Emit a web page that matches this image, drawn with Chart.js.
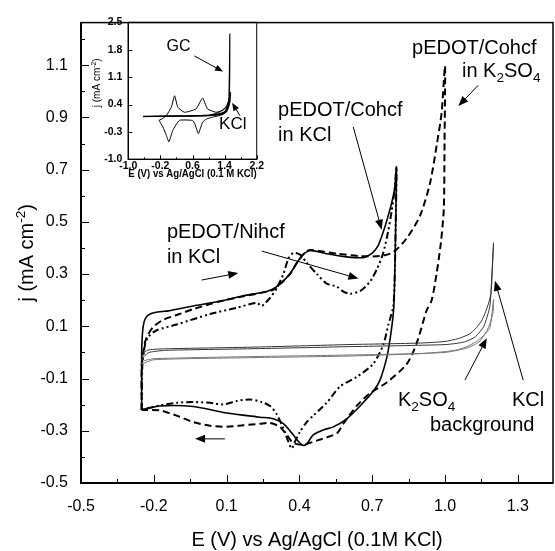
<!DOCTYPE html>
<html>
<head>
<meta charset="utf-8">
<script src="https://cdn.jsdelivr.net/npm/chart.js@4.4.1/dist/chart.umd.min.js"></script>
<style>
  html, body { margin: 0; padding: 0; background: #fff; }
  #wrap { position: relative; width: 555px; height: 551px; }
  #main { position: absolute; left: 0; top: 0; }
  #inset { position: absolute; left: 85px; top: 10px; }
</style>
</head>
<body>
<div id="wrap">
  <canvas id="main" width="555" height="551"></canvas>
  <canvas id="inset" width="180" height="175"></canvas>
</div>
<script>
const FAMILY = "'Liberation Sans', Arial, Helvetica, sans-serif";

// main panel: E (V vs Ag/AgCl) and j (mA cm-2), anodic sweep then cathodic sweep
const cohcfKclE = [-0.25, -0.25, -0.247, -0.243, -0.236, -0.223, -0.195, -0.14, -0.037, 0.073,
  0.169, 0.265, 0.30, 0.33, 0.361, 0.395, 0.423, 0.451, 0.512, 0.595,
  0.663, 0.70, 0.725, 0.745, 0.765, 0.782, 0.793, 0.8,
  0.797, 0.793, 0.788, 0.775, 0.76, 0.732, 0.704, 0.65, 0.595, 0.54,
  0.498, 0.457, 0.43, 0.416, 0.402, 0.375, 0.334, 0.292, 0.238, 0.1,
  -0.037, -0.175, -0.25];
const cohcfKclJ = [-0.22, 0.0, 0.07, 0.104, 0.128, 0.143, 0.153, 0.159, 0.178, 0.196,
  0.217, 0.233, 0.248, 0.27, 0.301, 0.351, 0.381, 0.39, 0.378, 0.366,
  0.363, 0.38, 0.41, 0.46, 0.52, 0.58, 0.63, 0.71,
  0.5, 0.3, 0.16, 0.06, -0.02, -0.106, -0.149, -0.205, -0.254, -0.285,
  -0.297, -0.316, -0.351, -0.356, -0.347, -0.316, -0.273, -0.254, -0.248, -0.232,
  -0.207, -0.205, -0.22];

const cohcfK2so4E = [-0.25, -0.25, -0.243, -0.236, -0.223, -0.202, -0.161, -0.1, -0.037, 0.073,
  0.169, 0.292, 0.33, 0.361, 0.395, 0.425, 0.445, 0.5, 0.554, 0.65,
  0.732, 0.787, 0.842, 0.897, 0.938, 0.966, 0.986, 1.0,
  0.998, 0.995, 0.983, 0.965, 0.945, 0.924, 0.883, 0.842, 0.76, 0.691,
  0.636, 0.581, 0.554, 0.48, 0.416, 0.375, 0.348, 0.32, 0.279, 0.238,
  0.169, 0.1, 0.032, -0.037, -0.106, -0.175, -0.25];
const cohcfK2so4J = [-0.22, -0.05, 0.0, 0.04, 0.07, 0.098, 0.125, 0.145, 0.166, 0.196,
  0.215, 0.24, 0.27, 0.30, 0.35, 0.385, 0.392, 0.386, 0.378, 0.369,
  0.369, 0.384, 0.437, 0.523, 0.647, 0.795, 0.918, 1.097,
  0.8, 0.55, 0.42, 0.3, 0.2, 0.16, 0.035, -0.045, -0.115, -0.156,
  -0.205, -0.273, -0.31, -0.335, -0.353, -0.347, -0.316, -0.285, -0.27, -0.273,
  -0.279, -0.285, -0.281, -0.267, -0.242, -0.222, -0.22];

const nihcfKclE = [-0.25, -0.247, -0.236, -0.223, -0.188, -0.106, 0.032, 0.142, 0.224, 0.245,
  0.279, 0.306, 0.334, 0.355, 0.375, 0.402, 0.43, 0.471, 0.512, 0.554,
  0.581, 0.608, 0.65, 0.69, 0.72, 0.745, 0.765, 0.78, 0.792, 0.8,
  0.797, 0.793, 0.787, 0.766, 0.746, 0.704, 0.636, 0.567, 0.512, 0.457,
  0.43, 0.402, 0.38, 0.368, 0.354, 0.334, 0.306, 0.279, 0.245, 0.196,
  0.142, 0.086, 0.032, -0.037, -0.106, -0.175, -0.229, -0.25];
const nihcfKclJ = [-0.22, -0.044, 0.03, 0.06, 0.085, 0.107, 0.147, 0.171, 0.19, 0.178,
  0.209, 0.245, 0.3, 0.36, 0.381, 0.375, 0.344, 0.301, 0.264, 0.252,
  0.233, 0.225, 0.235, 0.27, 0.32, 0.38, 0.46, 0.54, 0.62, 0.71,
  0.5, 0.3, 0.178, 0.104, 0.03, -0.044, -0.094, -0.131, -0.193, -0.242,
  -0.267, -0.304, -0.345, -0.368, -0.341, -0.291, -0.236, -0.205, -0.19, -0.18,
  -0.186, -0.199, -0.193, -0.19, -0.193, -0.203, -0.215, -0.22];

const bgKclE = [-0.25, -0.24, -0.22, -0.15, 0.2, 0.6, 0.9, 1.0, 1.055, 1.1,
  1.125, 1.15, 1.165, 1.18, 1.19, 1.2, 1.193, 1.185, 1.16, 1.125,
  1.08, 1.0, 0.6, 0.2, -0.15, -0.22, -0.24, -0.25];
const bgKclJ = [-0.03, 0.0, 0.01, 0.014, 0.02, 0.03, 0.036, 0.042, 0.053, 0.07,
  0.09, 0.12, 0.15, 0.19, 0.23, 0.42, 0.3, 0.178, 0.1, 0.06,
  0.04, 0.03, 0.022, 0.014, 0.008, 0.0, -0.015, -0.03];

const bgK2so4E = [-0.25, -0.24, -0.2, 0.2, 0.6, 0.9, 1.0, 1.05, 1.09, 1.13,
  1.16, 1.185, 1.2, 1.198, 1.185, 1.17, 1.14, 1.09, 1.0, 0.6,
  0.2, -0.2, -0.25];
const bgK2so4J = [-0.045, -0.032, -0.024, -0.016, -0.01, -0.004, 0.003, 0.01, 0.022, 0.042,
  0.065, 0.095, 0.203, 0.153, 0.11, 0.079, 0.04, 0.017, 0.0, -0.014,
  -0.02, -0.028, -0.045];

const xTicks = [-0.5, -0.2, 0.1, 0.4, 0.7, 1.0, 1.3];
const yTicks = [-0.5, -0.3, -0.1, 0.1, 0.3, 0.5, 0.7, 0.9, 1.1];

// inset
const gcE = [-0.63, 0.0, 0.6, 1.0, 1.25, 1.38, 1.43, 1.48, 1.51, 1.525, 1.53, 1.527, 1.518, 1.5, 1.45, 1.35, 1.0, 0.4, -0.63];
const gcJ = [0.1, 0.11, 0.11, 0.13, 0.16, 0.2, 0.25, 0.4, 0.6, 1.6, 2.2, 1.2, 0.6, 0.38, 0.22, 0.15, 0.12, 0.11, 0.1];
const kclInsetE = [-0.63, 0.0, 0.6, 1.0, 1.26, 1.43, 1.5, 1.55, 1.54, 1.5, 1.42, 1.25, 1.0, 0.4, -0.63];
const kclInsetJ = [0.09, 0.1, 0.11, 0.12, 0.2, 0.33, 0.48, 0.71, 0.5, 0.33, 0.2, 0.14, 0.11, 0.1, 0.09];
const hcfInsetE = [-0.235, -0.13, -0.052, 0.072, 0.153, 0.235, 0.4, 0.689, 0.852, 0.975,
  1.183, 1.346, 1.45, 1.53, 1.47, 1.346, 1.099, 0.95, 0.852, 0.746,
  0.66, 0.605, 0.276, 0.11, 0.012, -0.053, -0.136, -0.235];
const hcfInsetJ = [-0.005, 0.05, 0.119, 0.328, 0.624, 0.328, 0.202, 0.288, 0.566, 0.288,
  0.202, 0.245, 0.33, 0.5, 0.28, 0.14, 0.076, 0.03, -0.05, -0.343,
  -0.1, -0.008, -0.005, -0.258, -0.555, -0.385, -0.175, -0.005];

const insetXTicks = [-1.0, -0.2, 0.6, 1.4, 2.2];
const insetYTicks = [-1.0, -0.3, 0.4, 1.1, 1.8, 2.5];

// annotations, placed in data units
const mainLabels = [
  { parts: [['pEDOT/Cohcf', 0]], x: 0.864, y: 1.144 },
  { parts: [['in K', 0], ['2', -1], ['SO', 0], ['4', -1]], x: 1.070, y: 1.054 },
  { parts: [['pEDOT/Cohcf', 0]], x: 0.312, y: 0.904 },
  { parts: [['in KCl', 0]], x: 0.312, y: 0.811 },
  { parts: [['pEDOT/Nihcf', 0]], x: -0.146, y: 0.437 },
  { parts: [['in KCl', 0]], x: -0.146, y: 0.344 },
  { parts: [['K', 0], ['2', -1], ['SO', 0], ['4', -1]], x: 0.806, y: -0.207 },
  { parts: [['KCl', 0]], x: 1.276, y: -0.207 },
  { parts: [['background', 0]], x: 0.938, y: -0.300 }
];
const mainArrows = [
  [1.137, 1.023, 1.055, 0.944],
  [0.622, 0.863, 0.739, 0.470],
  [0.245, 0.388, 0.643, 0.283],
  [-0.003, 0.277, 0.148, 0.304],
  [0.093, -0.331, -0.030, -0.331],
  [1.082, -0.106, 1.172, 0.054],
  [1.322, -0.106, 1.206, 0.274]
];
const insetLabels = [
  { parts: [['GC', 0]], x: -0.045, y: 1.766, size: 16 },
  { parts: [['KCl', 0]], x: 1.263, y: -0.233, size: 17 }
];
const insetArrows = [
  [0.646, 1.640, 1.361, 1.242],
  [1.783, 0.114, 1.586, 0.443]
];

function pts(e, j) {
  return e.map((v, i) => ({ x: v, y: j[i] }));
}

function line(data, width, dash, color, tension) {
  return {
    data: data, showLine: true, pointRadius: 0, fill: false,
    borderColor: color, borderWidth: width, borderDash: dash, tension: tension
  };
}

function richText(ctx, parts, x, y, size, align) {
  const small = size * 0.68;
  let w = 0;
  parts.forEach(p => { ctx.font = (p[1] ? small : size) + 'px ' + FAMILY; w += ctx.measureText(p[0]).width; });
  let cx = align === 'center' ? x - w / 2 : x;
  ctx.textAlign = 'left';
  ctx.textBaseline = 'alphabetic';
  parts.forEach(p => {
    ctx.font = (p[1] ? small : size) + 'px ' + FAMILY;
    const dy = p[1] > 0 ? -size * 0.4 : (p[1] < 0 ? size * 0.22 : 0);
    ctx.fillText(p[0], cx, y + dy);
    cx += ctx.measureText(p[0]).width;
  });
}

function arrow(ctx, x1, y1, x2, y2, head, half) {
  const a = Math.atan2(y2 - y1, x2 - x1);
  const c = Math.cos(a), s = Math.sin(a);
  ctx.beginPath();
  ctx.moveTo(x1, y1);
  ctx.lineTo(x2 - head * 0.8 * c, y2 - head * 0.8 * s);
  ctx.stroke();
  ctx.beginPath();
  ctx.moveTo(x2, y2);
  ctx.lineTo(x2 - head * c + half * s, y2 - head * s - half * c);
  ctx.lineTo(x2 - head * c - half * s, y2 - head * s + half * c);
  ctx.closePath();
  ctx.fill();
}

function drawFrame(ctx, a, thin, thick) {
  ctx.strokeStyle = '#000';
  ctx.lineWidth = thin;
  ctx.strokeRect(a.left, a.top, a.right - a.left, a.bottom - a.top);
  ctx.lineWidth = thick;
  ctx.beginPath();
  ctx.moveTo(a.left, a.top);
  ctx.lineTo(a.left, a.bottom);
  ctx.lineTo(a.right, a.bottom);
  ctx.stroke();
}

function midpoints(arr) {
  const s = arr[1] - arr[0];
  return [arr[0] - s / 2].concat(arr.map(v => v + s / 2));
}

function drawTickMarks(ctx, a, xs, ys, xMaj, yMaj, big, small, xMinor, yMinor) {
  ctx.strokeStyle = '#000';
  ctx.lineWidth = 1;
  ctx.beginPath();
  const put = (vals, len, scale, horiz) => vals.forEach(v => {
    if (v < scale.min - 1e-9 || v > scale.max + 1e-9) return;
    const p = Math.round(scale.getPixelForValue(v)) + 0.5;
    if (horiz) { ctx.moveTo(p, a.bottom); ctx.lineTo(p, a.bottom - len); }
    else { ctx.moveTo(a.left, p); ctx.lineTo(a.left + len, p); }
  });
  put(xMaj, big, xs, true);
  put(yMaj, big, ys, false);
  if (xMinor) put(midpoints(xMaj), small, xs, true);
  if (yMinor) put(midpoints(yMaj), small, ys, false);
  ctx.stroke();
}

const mainDecor = {
  id: 'mainDecor',
  afterDraw(chart) {
    const { ctx, chartArea: a, scales: { x, y } } = chart;
    ctx.save();
    drawFrame(ctx, a, 1.5, 2);
    drawTickMarks(ctx, a, x, y, xTicks, yTicks, 8, 4, true, true);
    ctx.fillStyle = '#000';
    ctx.strokeStyle = '#000';
    mainLabels.forEach(l => richText(ctx, l.parts, x.getPixelForValue(l.x), y.getPixelForValue(l.y), 20, 'left'));
    ctx.lineWidth = 1;
    mainArrows.forEach(r => arrow(ctx, x.getPixelForValue(r[0]), y.getPixelForValue(r[1]),
      x.getPixelForValue(r[2]), y.getPixelForValue(r[3]), 10, 4));
    ctx.translate(33, (a.top + a.bottom) / 2);
    ctx.rotate(-Math.PI / 2);
    richText(ctx, [['j (mA cm', 0], ['-2', 1], [')', 0]], 0, 0, 20, 'center');
    ctx.restore();
  }
};

const insetDecor = {
  id: 'insetDecor',
  afterDraw(chart) {
    const { ctx, chartArea: a, scales: { x, y } } = chart;
    ctx.save();
    drawFrame(ctx, a, 1, 1.3);
    drawTickMarks(ctx, a, x, y, insetXTicks, insetYTicks, 4, 2, true, false);
    ctx.fillStyle = '#000';
    insetLabels.forEach(l => richText(ctx, l.parts, x.getPixelForValue(l.x), y.getPixelForValue(l.y), l.size, 'left'));
    ctx.lineWidth = 1;
    insetArrows.forEach(r => arrow(ctx, x.getPixelForValue(r[0]), y.getPixelForValue(r[1]),
      x.getPixelForValue(r[2]), y.getPixelForValue(r[3]), 8, 3.2));
    ctx.translate(15, (a.top + a.bottom) / 2 - 8);
    ctx.rotate(-Math.PI / 2);
    richText(ctx, [['j (mA cm', 0], ['-2', 1], [')', 0]], 0, 0, 10, 'center');
    ctx.restore();
  }
};

function axis(min, max, ticks, size, pad, extra) {
  return Object.assign({
    type: 'linear', min: min, max: max,
    afterBuildTicks: s => { s.ticks = ticks.map(v => ({ value: v })); },
    grid: { display: false, drawTicks: false },
    border: { display: false },
    ticks: {
      autoSkip: false, maxRotation: 0, padding: pad, color: '#000',
      font: Object.assign({ family: FAMILY }, size),
      callback: v => Number(v).toFixed(1)
    }
  }, extra);
}

new Chart(document.getElementById('main'), {
  type: 'scatter',
  data: {
    datasets: [
      line(pts(bgKclE, bgKclJ), 1, [], '#333', 0.2),
      line(pts(bgK2so4E, bgK2so4J), 1, [], '#777', 0.2),
      line(pts(nihcfKclE, nihcfKclJ), 2, [7, 3, 2, 3, 2, 3], '#000', 0.25),
      line(pts(cohcfK2so4E, cohcfK2so4J), 2, [7, 4], '#000', 0.25),
      line(pts(cohcfKclE, cohcfKclJ), 1.6, [], '#000', 0.25)
    ]
  },
  options: {
    responsive: false, devicePixelRatio: 1, animation: false,
    layout: { padding: { left: 0, right: 2, top: 7, bottom: 0 } },
    plugins: { legend: { display: false }, tooltip: { enabled: false } },
    scales: {
      x: axis(-0.5, 1.445, xTicks, { size: 16 }, 14, {
        afterFit: s => { s.height = 68; },
        title: {
          display: true, text: 'E (V) vs Ag/AgCl (0.1M KCl)', color: '#000',
          font: { family: FAMILY, size: 20, lineHeight: 1 }, padding: { top: 0, bottom: 1 }
        }
      }),
      y: axis(-0.5, 1.263, yTicks, { size: 16 }, 13, {
        afterFit: s => { s.width = 81; }
      })
    }
  },
  plugins: [mainDecor]
});

new Chart(document.getElementById('inset'), {
  type: 'scatter',
  data: {
    datasets: [
      line(pts(gcE, gcJ), 1.2, [], '#000', 0.1),
      line(pts(kclInsetE, kclInsetJ), 1, [], '#000', 0.1),
      line(pts(hcfInsetE, hcfInsetJ), 1, [], '#000', 0.15)
    ]
  },
  options: {
    responsive: false, devicePixelRatio: 1, animation: false,
    layout: { padding: { left: 0, right: 7, top: 11, bottom: 0 } },
    plugins: { legend: { display: false }, tooltip: { enabled: false } },
    scales: {
      x: axis(-1.0, 2.2, insetXTicks, { size: 10.5, weight: 'bold' }, 1, {
        afterFit: s => { s.height = 25.7; },
        title: {
          display: true, text: 'E (V) vs Ag/AgCl (0.1 M KCl)', color: '#000',
          font: { family: FAMILY, size: 11, weight: 'bold', lineHeight: 1 }, padding: { top: 0, bottom: 6 }
        }
      }),
      y: axis(-1.0, 2.5, insetYTicks, { size: 10.5, weight: 'bold' }, 6, {
        afterFit: s => { s.width = 43.3; }
      })
    }
  },
  plugins: [insetDecor]
});
</script>
</body>
</html>
